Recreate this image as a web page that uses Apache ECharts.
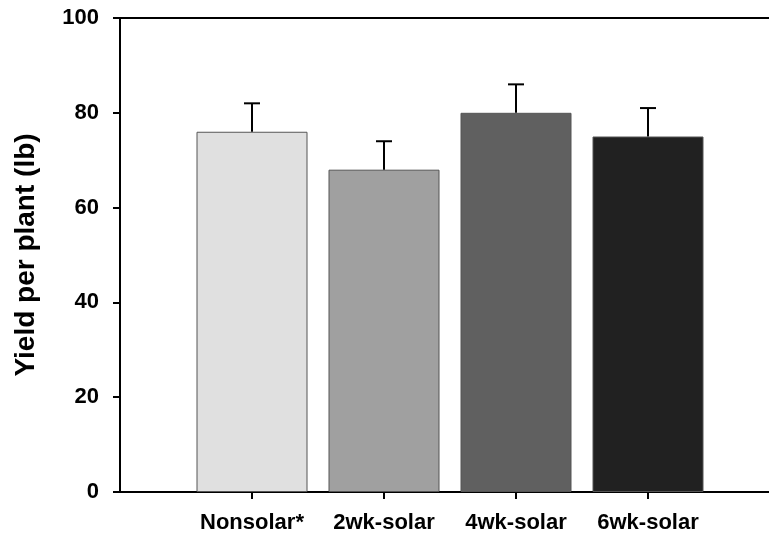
<!DOCTYPE html>
<html><head><meta charset="utf-8">
<script src="https://cdn.jsdelivr.net/npm/echarts@6/dist/echarts.min.js"></script>
<style>html,body{margin:0;padding:0;background:#fff}#c{width:769px;height:535px}</style>
</head><body><div id="c"></div>
<script>
const categories = ['', 'Nonsolar*', '2wk-solar', '4wk-solar', '6wk-solar', ''];
const yields = [null, 76, 68, 80, 75, null];
const errorTops = [null, 82, 74, 86, 81, null];
const barColors = ['#ffffff', '#e0e0e0', '#a0a0a0', '#606060', '#212121', '#ffffff'];
const yTicks = [0, 20, 40, 60, 80, 100];

const chart = echarts.init(document.getElementById('c'), null, {renderer: 'canvas'});
const font = '"Liberation Sans", Arial, sans-serif';
chart.setOption({
  animation: false,
  grid: {left: 120, top: 18, width: 660, height: 474, containLabel: false, outerBoundsMode: 'none'},
  xAxis: [{
    type: 'category', data: categories, boundaryGap: false,
    axisLine: {lineStyle: {color: '#000', width: 2}},
    axisTick: {show: true, length: 7, lineStyle: {color: '#000', width: 2},
      interval: (i, v) => v !== ''},
    axisLabel: {color: '#000', fontFamily: font, fontWeight: 'bold', fontSize: 22, margin: 20,
      interval: 0},
    splitLine: {show: false}
  }, {
    type: 'category', data: categories, boundaryGap: false, position: 'top',
    axisLine: {lineStyle: {color: '#000', width: 2}},
    axisTick: {show: false}, axisLabel: {show: false}
  }],
  yAxis: {
    type: 'value', min: yTicks[0], max: yTicks[yTicks.length - 1], interval: 20,
    name: 'Yield per plant (lb)', nameLocation: 'middle', nameGap: 80,
    nameTextStyle: {color: '#000', fontFamily: font, fontWeight: 'bold', fontSize: 28},
    axisLine: {show: true, lineStyle: {color: '#000', width: 2}},
    axisTick: {show: true, length: 7, lineStyle: {color: '#000', width: 2}},
    axisLabel: {color: '#000', fontFamily: font, fontWeight: 'bold', fontSize: 22, margin: 21},
    splitLine: {show: false}
  },
  series: [{
    type: 'bar', barWidth: 111,
    data: yields.map((v, i) => ({value: v, itemStyle: {color: barColors[i]}})),
    itemStyle: {borderColor: '#555', borderWidth: 1}
  }, {
    type: 'custom',
    data: categories.map((c, i) => [i, yields[i], errorTops[i]]).filter(d => d[1] !== null),
    renderItem: function (params, api) {
      const base = api.coord([api.value(0), api.value(1)]);
      const top = api.coord([api.value(0), api.value(2)]);
      const hw = 8;
      const st = {stroke: '#000', lineWidth: 2};
      return {type: 'group', children: [
        {type: 'line', shape: {x1: base[0], y1: base[1], x2: top[0], y2: top[1]}, style: st},
        {type: 'line', shape: {x1: top[0] - hw, y1: top[1], x2: top[0] + hw, y2: top[1]}, style: st}
      ]};
    },
    z: 5
  }]
});
</script></body></html>
